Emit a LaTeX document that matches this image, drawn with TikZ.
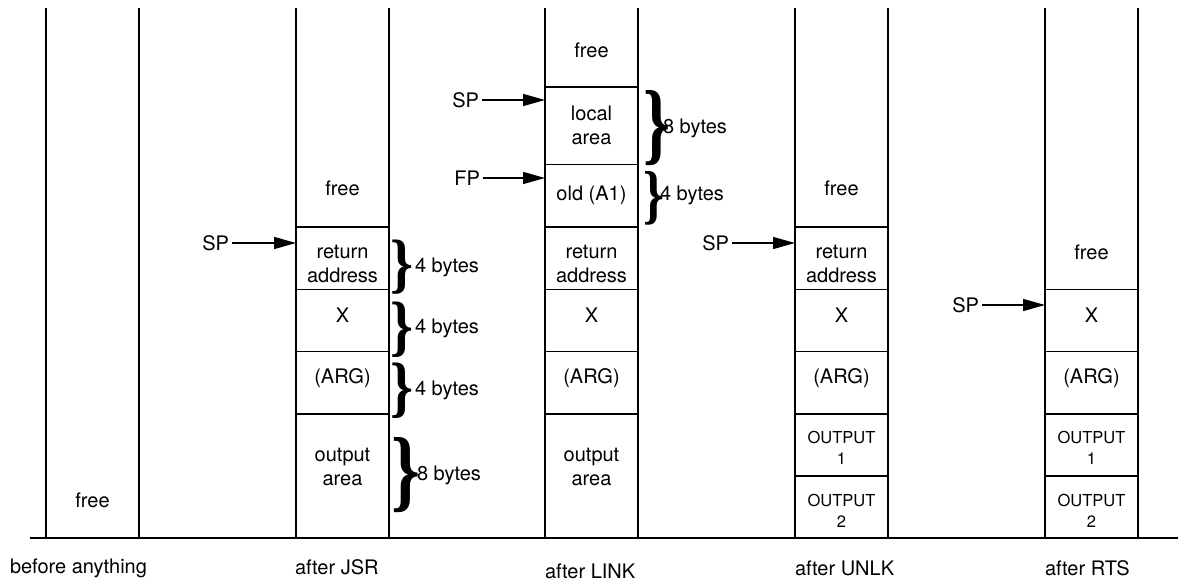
\documentclass[tikz,border=0pt]{standalone}
\usepackage{fontspec}
\setmainfont{TeX Gyre Heros}
\newfontfamily\bracefont{Liberation Serif}
\usetikzlibrary{arrows.meta}

% a tall bold curly brace, stretched to #1 wide and #2 high
\newcommand{\sizebrace}[2]{\resizebox{#1}{#2}{\bracefont\bfseries\}}}

\begin{document}
\begin{tikzpicture}[x=1pt,y=-1pt,
  every node/.style={font=\fontsize{20}{24}\selectfont, inner sep=0pt, outer sep=0pt},
  rule/.style={line width=1.4pt},
  cell/.style={draw, line width=1.4pt, minimum width=93pt},
  txt/.style={align=center},
  small/.style={align=center, font=\fontsize{16.5}{21}\selectfont},
  ptr/.style={line width=1.4pt, -{Triangle[length=22pt,width=12pt]}},
  reg/.style={anchor=east, inner xsep=3pt},
  sizelbl/.style={anchor=west}]
\useasboundingbox (0,0) rectangle (1178,583);

% column walls and floor
\foreach \x in {46,139,296,389,545,638,795,888,1045,1138}
  \draw[rule] (\x,8) -- (\x,538);
\draw[rule] (30,538) -- (1178,538);

% ---- before anything
\node (fA) at (92.5,500) {free};

% ---- after JSR
\node[cell, minimum height=62.3pt] (bRet) at (342.5,258.15) {};
\node[cell, minimum height=62.4pt] (bX)   at (342.5,320.5) {};
\node[cell, minimum height=62.3pt] (bArg) at (342.5,382.85) {};
\node[cell, minimum height=124pt]  (bOut) at (342.5,476) {};
\node (fB) at (342.5,188) {free};
\node[txt] (tbRet) at (342.5,264) {return\\address};
\node (tbX)   at (342.5,315) {X};
\node (tbArg) at (342.5,378) {(ARG)};
\node[txt] (tbOut) at (342.5,467) {output\\area};
\node[reg] (spB) at (232,243) {SP};
\draw[ptr] (spB.east) -- (spB.east -| bRet.west);

\node (kB1) at (402,267.5) {\sizebrace{23pt}{45.5pt}};
\node (kB2) at (402,330)   {\sizebrace{23pt}{46.5pt}};
\node (kB3) at (402,391)   {\sizebrace{23pt}{46.5pt}};
\node (kB4) at (405.5,475) {\sizebrace{29pt}{63pt}};
\node[sizelbl] (bB1) at (415,267) {4 bytes};
\node[sizelbl] (bB2) at (415,328) {4 bytes};
\node[sizelbl] (bB3) at (415,390) {4 bytes};
\node[sizelbl] (bB4) at (417,475) {8 bytes};

% ---- after LINK
\node[cell, minimum height=77.5pt] (cLoc) at (591.5,125.75) {};
\node[cell, minimum height=62.5pt] (cOld) at (591.5,195.75) {};
\node[cell, minimum height=62.3pt] (cRet) at (591.5,258.15) {};
\node[cell, minimum height=62.4pt] (cX)   at (591.5,320.5) {};
\node[cell, minimum height=62.3pt] (cArg) at (591.5,382.85) {};
\node[cell, minimum height=124pt]  (cOut) at (591.5,476) {};
\node (fC) at (591.5,50) {free};
\node[txt] (tcLoc) at (591.5,125) {local\\area};
\node (tcOld) at (591.5,195) {old (A1)};
\node[txt] (tcRet) at (591.5,264) {return\\address};
\node (tcX)   at (591.5,315) {X};
\node (tcArg) at (591.5,378) {(ARG)};
\node[txt] (tcOut) at (591.5,467) {output\\area};
\node[reg] (spC) at (482,100) {SP};
\node[reg] (fpC) at (483,178) {FP};
\draw[ptr] (spC.east) -- (spC.east -| cLoc.west);
\draw[ptr] (fpC.east) -- (fpC.east -| cOld.west);

\node (kC1) at (656.5,128) {\sizebrace{27pt}{63pt}};
\node (kC2) at (654,198)   {\sizebrace{21pt}{45pt}};
\node[sizelbl] (bC1) at (663,128) {8 bytes};
\node[sizelbl] (bC2) at (660,195) {4 bytes};

% ---- after UNLK
\node[cell, minimum height=62.3pt] (dRet) at (841.5,258.15) {};
\node[cell, minimum height=62.4pt] (dX)   at (841.5,320.5) {};
\node[cell, minimum height=62.3pt] (dArg) at (841.5,382.85) {};
\node[cell, minimum height=62pt]   (dO1)  at (841.5,445) {};
\node[cell, minimum height=62pt]   (dO2)  at (841.5,507) {};
\node (fD) at (841.5,188) {free};
\node[txt] (tdRet) at (841.5,264) {return\\address};
\node (tdX)   at (841.5,315) {X};
\node (tdArg) at (841.5,378) {(ARG)};
\node[small] (tdO1) at (841.5,448) {OUTPUT\\1};
\node[small] (tdO2) at (841.5,511) {OUTPUT\\2};
\node[reg] (spD) at (732,243) {SP};
\draw[ptr] (spD.east) -- (spD.east -| dRet.west);

% ---- after RTS
\node[cell, minimum height=62.4pt] (eX)   at (1091.5,320.5) {};
\node[cell, minimum height=62.3pt] (eArg) at (1091.5,382.85) {};
\node[cell, minimum height=62pt]   (eO1)  at (1091.5,445) {};
\node[cell, minimum height=62pt]   (eO2)  at (1091.5,507) {};
\node (fE) at (1091.5,252) {free};
\node (teX)   at (1091.5,315) {X};
\node (teArg) at (1091.5,378) {(ARG)};
\node[small] (teO1) at (1091.5,448) {OUTPUT\\1};
\node[small] (teO2) at (1091.5,511) {OUTPUT\\2};
\node[reg] (spE) at (982,305) {SP};
\draw[ptr] (spE.east) -- (spE.east -| eX.west);

% captions under the floor
\node[sizelbl] (lA) at (10,568) {before anything};
\node[sizelbl] (lB) at (295,567) {after JSR};
\node[sizelbl] (lC) at (545,571) {after LINK};
\node[sizelbl] (lD) at (795,568) {after UNLK};
\node[sizelbl] (lE) at (1045,568) {after RTS};
\end{tikzpicture}
\end{document}
